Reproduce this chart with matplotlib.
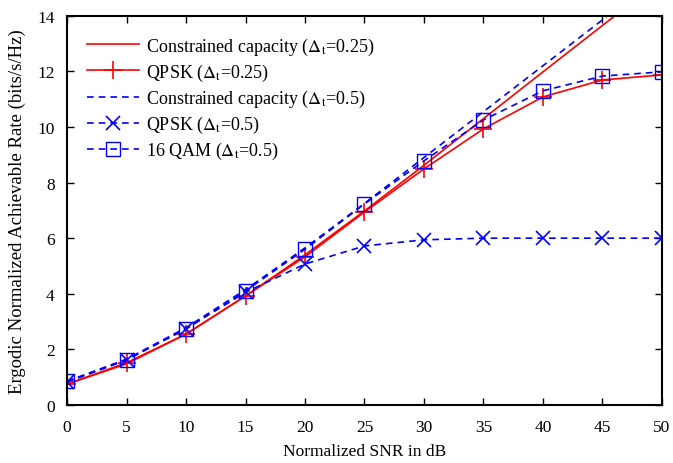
import matplotlib
matplotlib.use("Agg")
import matplotlib.pyplot as plt

plt.rcParams['font.family'] = ['Liberation Serif', 'DejaVu Serif']
plt.rcParams['mathtext.fontset'] = 'stix'

# Normalized SNR (dB)
snr = [0, 5, 10, 15, 20, 25, 30, 35, 40, 45, 50]

# achievable rates
cap_025 = [0.75, 1.48, 2.55, 3.92, 5.40, 6.98, 8.62, 10.30, 11.98, 13.65, 15.3]
qpsk_025 = [0.75, 1.52, 2.55, 3.92, 5.33, 6.94, 8.49, 9.93, 11.08, 11.69, 11.87]
cap_05 = [0.85, 1.65, 2.78, 4.15, 5.65, 7.25, 8.90, 10.55, 12.20, 13.85, 15.5]
qpsk_05 = [0.82, 1.62, 2.75, 4.05, 5.07, 5.72, 5.94, 6.00, 6.00, 6.00, 6.00]
qam16_05 = [0.85, 1.63, 2.73, 4.10, 5.60, 7.23, 8.78, 10.25, 11.30, 11.83, 11.98]

fig = plt.figure(figsize=(6.73, 4.64), dpi=100)
ax = fig.add_axes([0.0996, 0.125, 0.884, 0.839])

dash = (0, (4, 3))
ax.plot(snr, cap_025, color='red', lw=1.2, label=r'Constrained capacity ($\Delta_{\mathrm{t}}$=0.25)')
ax.plot(snr, qpsk_025, color='red', lw=1.2, marker='+', ms=13, mew=1.2,
        label=r'QPSK ($\Delta_{\mathrm{t}}$=0.25)')
ax.plot(snr, cap_05, color='blue', lw=1.2, ls=dash, label=r'Constrained capacity ($\Delta_{\mathrm{t}}$=0.5)')
ax.plot(snr, qpsk_05, color='blue', lw=1.2, ls=dash, marker='x', ms=10, mew=1.2,
        label=r'QPSK ($\Delta_{\mathrm{t}}$=0.5)')
ax.plot(snr, qam16_05, color='blue', lw=1.2, ls=dash, marker='s', ms=10, mew=1.0,
        mfc='none', label=r'16 QAM ($\Delta_{\mathrm{t}}$=0.5)')

ax.set_xlim(0, 50)
ax.set_ylim(0, 14)
ax.set_xticks(range(0, 51, 5))
ax.set_yticks(range(0, 15, 2))
ax.tick_params(direction='in', top=True, right=True, labelsize=12.5, length=5, width=1)
ax.tick_params(axis='x', pad=10)
ax.tick_params(axis='y', pad=9)
for s in ax.spines.values():
    s.set_linewidth(1.5)

ax.set_xlabel('Normalized SNR in dB', fontsize=12.5, labelpad=6)
ax.set_ylabel('Ergodic Normalized Achievable Rate (bits/s/Hz)', fontsize=13.5, labelpad=8)

ax.legend(loc='upper left', frameon=False, fontsize=13, handlelength=2.9,
          labelspacing=0.28, borderaxespad=0.8, handletextpad=0.35,
          borderpad=0.3)

fig.savefig('out.png', dpi=100)
